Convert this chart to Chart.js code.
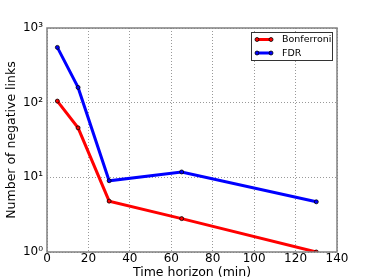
<!DOCTYPE html>
<html>
<head>
<meta charset="utf-8">
<script src="https://cdn.jsdelivr.net/npm/chart.js@4"></script>
<style>
  html, body { margin: 0; padding: 0; background: #fff; }
  #wrap { width: 374px; height: 280px; }
</style>
</head>
<body>
<div id="wrap"><canvas id="neg"></canvas></div>
<script>
var horizons = [5, 15, 30, 65, 130];
var bonferroni = [105, 46, 4.8, 2.8, 1];
var fdr = [550, 160, 9, 11.8, 4.7];
var yTicks = [1, 10, 100, 1000];
var supers = { 0: "\u2070", 1: "\u00b9", 2: "\u00b2", 3: "\u00b3" };

function toPoints(ys) {
  return horizons.map((x, i) => ({ x: x, y: ys[i] }));
}

// frame + legend box like the original figure
const framePlugin = {
  id: "frame",
  afterDraw(chart) {
    const ctx = chart.ctx;
    const a = chart.chartArea;
    ctx.save();
    ctx.strokeStyle = "#808080";
    ctx.lineWidth = 1.5;
    ctx.strokeRect(a.left, a.top, a.right - a.left, a.bottom - a.top);

    // legend
    const bx = 251, by = 32, bw = 81, bh = 28;
    ctx.fillStyle = "#fff";
    ctx.fillRect(bx, by, bw, bh);
    ctx.strokeStyle = "#333";
    ctx.lineWidth = 1;
    ctx.strokeRect(bx + 0.5, by + 0.5, bw, bh);
    ctx.font = "9.5px 'DejaVu Sans'";
    ctx.textBaseline = "middle";
    chart.data.datasets.forEach((ds, i) => {
      const y = by + 7.5 + i * 13.5;
      ctx.strokeStyle = ds.borderColor;
      ctx.lineWidth = 3;
      ctx.beginPath();
      ctx.moveTo(257, y);
      ctx.lineTo(271, y);
      ctx.stroke();
      [257, 271].forEach((px) => {
        ctx.beginPath();
        ctx.arc(px, y, 2, 0, Math.PI * 2);
        ctx.fillStyle = ds.borderColor;
        ctx.fill();
        ctx.lineWidth = 0.8;
        ctx.strokeStyle = "#000";
        ctx.stroke();
      });
      ctx.fillStyle = "#000";
      ctx.fillText(ds.label, 282, y + 0.5);
    });
    ctx.restore();
  },
};

const config_neg = {
  type: "line",
  data: {
    datasets: [
      {
        label: "Bonferroni",
        data: toPoints(bonferroni),
        borderColor: "#ff0000",
        backgroundColor: "#ff0000",
        borderWidth: 3,
        pointRadius: 2,
        pointBorderColor: "#000",
        pointBorderWidth: 0.8,
        tension: 0,
      },
      {
        label: "FDR",
        data: toPoints(fdr),
        borderColor: "#0000ff",
        backgroundColor: "#0000ff",
        borderWidth: 3,
        pointRadius: 2,
        pointBorderColor: "#000",
        pointBorderWidth: 0.8,
        tension: 0,
      },
    ],
  },
  options: {
    responsive: true,
    maintainAspectRatio: false,
    animation: false,
    layout: { padding: { top: 28, right: 37, left: 4, bottom: 0 } },
    scales: {
      x: {
        type: "linear",
        min: 0,
        max: 140,
        ticks: {
          stepSize: 20,
          color: "#000",
          font: { family: "DejaVu Sans", size: 12 },
          padding: 0,
          maxRotation: 0,
        },
        grid: { color: "#999", lineWidth: 1, drawTicks: false, tickLength: 0 },
        border: { display: false, dash: [1, 2] },
        title: {
          display: true,
          text: "Time horizon (min)",
          color: "#000",
          font: { family: "DejaVu Sans", size: 12.5 },
          padding: { top: 0, bottom: 0 },
        },
        afterFit(scale) { scale.height = 28; },
      },
      y: {
        type: "logarithmic",
        min: 1,
        max: 1000,
        afterBuildTicks(scale) {
          scale.ticks = yTicks.map((v) => ({ value: v }));
        },
        ticks: {
          color: "#000",
          font: { family: "DejaVu Sans", size: 12 },
          padding: 4,
          callback: (v) => "10" + supers[Math.round(Math.log10(v))],
        },
        grid: { color: "#999", lineWidth: 1, drawTicks: false, tickLength: 0 },
        border: { display: false, dash: [1, 2] },
        title: {
          display: true,
          text: "Number of negative links",
          color: "#000",
          font: { family: "DejaVu Sans", size: 12.5 },
          padding: { top: 0, bottom: 2 },
        },
        afterFit(scale) { scale.width = 43; },
      },
    },
    plugins: {
      legend: { display: false },
      tooltip: { enabled: false },
    },
  },
  plugins: [framePlugin],
};

const neg = new Chart(document.getElementById("neg"), config_neg);
</script>
</body>
</html>
